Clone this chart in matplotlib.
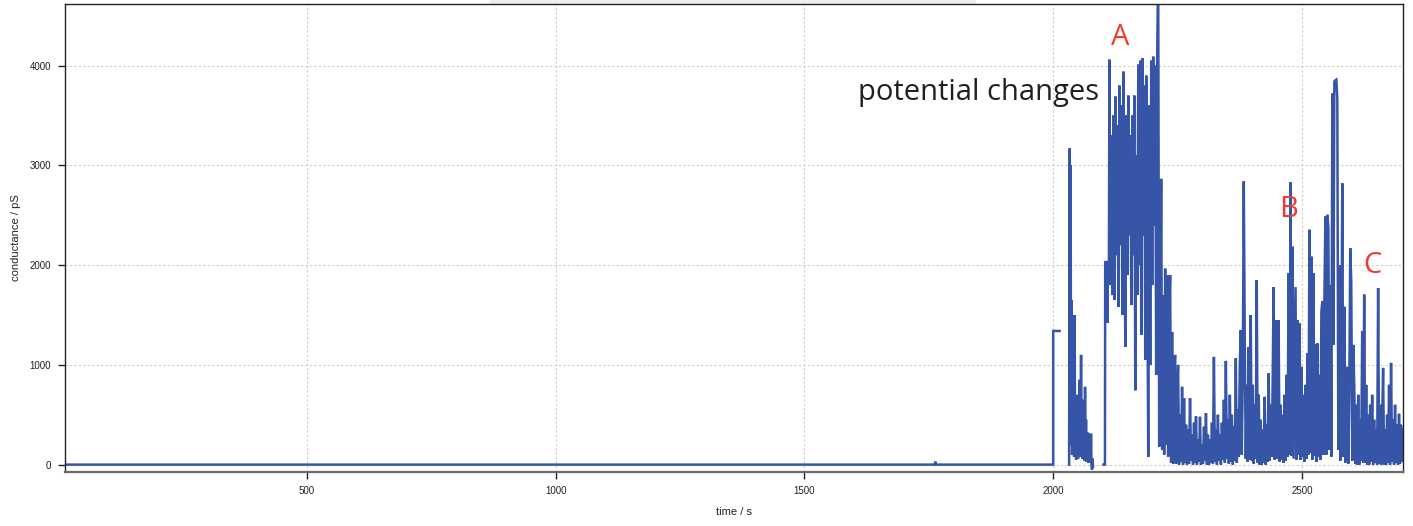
import numpy as np
import matplotlib
matplotlib.use("Agg")
import matplotlib.pyplot as plt
from matplotlib.patches import Rectangle

# ---------------- data ----------------
baseline_t = [14, 1762, 1763, 1764, 2000]
baseline_v = [0, 0, 30, 0, 0]

step_t = [2000, 2000, 2013]
step_v = [0, 1340, 1340]

burst1_t0, burst1_dt = 2032, 1
burst1_v = [0, 3170, 600, 3000, 200, 1650, 100, 700, 150, 500,
            80, 1500, 150, 600, 50, 450, 100, 700, 60, 400,
            150, 850, 80, 300, 1100, 200, 650, 60, 500, 100,
            350, 40, 780, 120, 450, 30, 250, 80, 320, 20,
            180, 60, 120, 20, 310, 0, -50, 60, -20]

preA_t = [2101, 2104, 2104.5, 2108, 2109, 2110, 2112]
preA_v = [0, 0, 2030, 2030, 1420, 2030, 2030]

main_t0, main_dt = 2113, 2
main_v = [
    # burst A
    4060, 1800, 3300, 1700, 3500, 1650, 3690, 2100, 3400, 1580,
    3800, 2200, 3600, 1500, 3940, 2400, 1180, 3500, 1900, 3700,
    2300, 3300, 1600, 3500, 2100, 3700, 745, 3100, 1700, 4010,
    2000, 4050, 1300, 4075, 2300, 3800, 1050, 3900, 2200, 77,
    3600, 1000, 4050, 1800, 4090, 2400, 4000, 900, 4100, 5000,
    # decay and later activity
    180, 1200, 2865, 150, 1700, 100, 1965, 200, 1900, 80,
    1500, 1900, 20, 1330, 10, 900, 1100, 10, 700, 1000,
    0, 500, 30, 780, 0, 667, 20, 400, 0, 350,
    10, 667, 40, 300, 0, 420, 20, 483, 0, 250,
    30, 480, 0, 200, 10, 380, 40, 516, 0, 300,
    0, 250, 20, 420, 10, 1080, 30, 350, 0, 500,
    40, 300, 0, 420, 50, 650, 20, 1040, 60, 450,
    10, 700, 30, 500, 0, 380, 40, 1065, 20, 550,
    80, 1000, 1350, 100, 900, 2840, 1215, 60, 800, 30,
    1180, 50, 1500, 40, 800, 10, 600, 60, 1850, 20,
    700, 0, 450, 0, 350, 20, 680, 0, 400, 30,
    915, 40, 600, 80, 800, 1780, 50, 700, 1450, 60,
    1450, 30, 600, 50, 500, 20, 700, 40, 900, 80,
    1918, 100, 2830, 90, 2185, 60, 900, 1780, 50, 1450,
    100, 1415, 50, 980, 80, 700, 30, 800, 60, 1115,
    100, 2355, 120, 2085, 50, 1918, 90, 1205, 30, 1215,
    80, 900, 50, 1540, 1640, 100, 1633, 2487, 100, 2505,
    2370, 150, 1800, 80, 3720, 1200, 3842, 3853, 3860, 3670,
    150, 2000, 40, 900, 2820, 80, 1583, 20, 905, 980,
    10, 700, 2170, 1838, 40, 1200, 800, 10, 600, 0,
    700, 0, 450, 40, 1340, 20, 1705, 20, 800, 0,
    500, 0, 600, 30, 700, 0, 450, 20, 350, 0,
    1770, 10, 600, 0, 400, 970, 0, 350, 0, 500,
    20, 800, 0, 1020, 30, 450, 0, 600, 20, 400,
    0, 510, 10, 400, 30, 350,
]

x_ticks = [500, 1000, 1500, 2000, 2500]
y_ticks = [0, 1000, 2000, 3000, 4000]

# ---------------- assemble series ----------------
burst1_t = burst1_t0 + burst1_dt * np.arange(len(burst1_v))
main_t = main_t0 + main_dt * np.arange(len(main_v))

t_all = np.concatenate([baseline_t, step_t, [np.nan], burst1_t, [np.nan], preA_t, main_t])
v_all = np.concatenate([baseline_v, step_v, [np.nan], burst1_v, [np.nan], preA_v, main_v])

# ---------------- figure ----------------
plt.rcParams['font.family'] = ['Liberation Sans', 'DejaVu Sans']
fig = plt.figure(figsize=(14.13, 5.26), dpi=100)
ax = fig.add_axes([65 / 1413, 1 - 472 / 526, (1403 - 65) / 1413, (472 - 4) / 526])

ax.plot(t_all, v_all, color='#3755a6', lw=1.8, solid_joinstyle='miter')

ax.set_xlim(14, 2703)
ax.set_ylim(-74, 4618)
ax.set_xticks(x_ticks)
ax.set_yticks(y_ticks)
ax.set_xticklabels([str(v) for v in x_ticks])
ax.set_yticklabels([str(v) for v in y_ticks])
ax.tick_params(direction='out', length=5, width=1, labelsize=7, pad=5, colors='#222222')
ax.grid(True, color='#cccccc', linestyle=(0, (2, 2)), lw=0.8)
ax.set_axisbelow(True)

for s in ['left', 'top', 'right']:
    ax.spines[s].set_color('#222222')
    ax.spines[s].set_linewidth(1.0)
ax.spines['bottom'].set_color('#6a6a6a')
ax.spines['bottom'].set_linewidth(1.6)

ax.set_xlabel('time / s', fontsize=8, labelpad=8, color='#222222')
ax.set_ylabel('conductance / pS', fontsize=8, labelpad=6, color='#222222')

ax.text(1850, 3728, 'potential changes', fontsize=21, family=['Open Sans', 'DejaVu Sans'],
        color='#231f20', ha='center', va='center')
red = '#ee3b30'
ax.text(2135, 4280, 'A', fontsize=21, family=['Open Sans', 'DejaVu Sans'], color=red,
        ha='center', va='center')
ax.text(2473, 2553, 'B', fontsize=21, family=['Open Sans', 'DejaVu Sans'], color=red,
        ha='center', va='center')
ax.text(2642, 2001, 'C', fontsize=21, family=['Open Sans', 'DejaVu Sans'], color=red,
        ha='center', va='center')

# faint scan shadow at top
fig.patches.append(Rectangle((490 / 1413, 1 - 9 / 526), 485 / 1413, 9 / 526,
                             transform=fig.transFigure, color='#efefef', zorder=-5))

fig.savefig('out.png', dpi=100)
